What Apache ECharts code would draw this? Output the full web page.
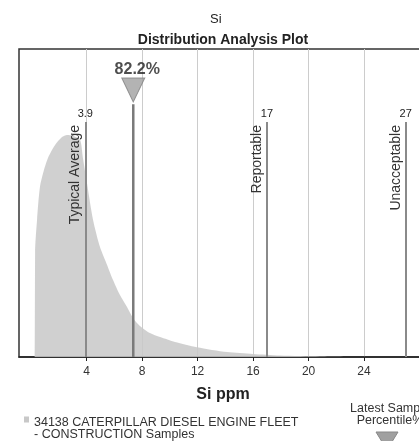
<!DOCTYPE html>
<html>
<head>
<meta charset="utf-8">
<script src="https://cdn.jsdelivr.net/npm/echarts@6/dist/echarts.min.js"></script>
<style>
html,body{margin:0;padding:0;overflow:hidden;background:#fff;}
#c{width:446px;height:441px;}
</style>
</head>
<body>
<div id="c"></div>
<script>
// ---- data ----
const titleTop = 'Si';
const titleMain = 'Distribution Analysis Plot';
const axisName = 'Si ppm';
const tickValues = [4, 8, 12, 16, 20, 24];
const densityX = [0.27, 0.28, 0.42, 0.63, 0.92, 1.21, 1.72, 2.22, 2.58, 3.01, 3.52, 3.73, 4.02, 4.46, 4.96, 5.47, 5.90, 6.40, 6.91, 7.34, 7.84, 8.56, 9.29, 10.37, 11.95, 14.12, 15.99, 17.94, 20.82, 23.7];
const densityY = [0, 0.338, 0.445, 0.552, 0.607, 0.646, 0.688, 0.714, 0.721, 0.718, 0.705, 0.646, 0.565, 0.445, 0.357, 0.299, 0.250, 0.201, 0.162, 0.127, 0.101, 0.078, 0.065, 0.049, 0.032, 0.016, 0.010, 0.005, 0.002, 0];
const limitNames = ['Typical Average', 'Reportable', 'Unacceptable'];
const limitValues = [3.9, 17, 27];
const limitLabels = ['3.9', '17', '27'];
const limitTop = 0.763;
const latestValue = 7.36;
const latestPercentile = '82.2%';
const latestTop = 0.821;
const latestMarker = 0.867;
const seriesName = '34138 CATERPILLAR DIESEL ENGINE FLEET\n- CONSTRUCTION Samples';
const latestLegend = ['Latest Sample', 'Percentile%'];

// ---- build ----
const density = densityX.map((x, i) => [x, densityY[i]]);
const limitMarks = [];
limitValues.forEach((v, i) => {
  limitMarks.push([
    { coord: [v, 0] },
    { coord: [v, limitTop], label: { show: true, position: 'end', formatter: limitLabels[i], fontSize: 11, color: '#222', distance: 3 } }
  ]);
  limitMarks.push([
    { coord: [v, 0] },
    { coord: [v, limitTop], label: { show: true, position: 'insideEndTop', formatter: limitNames[i], fontSize: 14, color: '#333', distance: 3 } }
  ]);
});

const chart = echarts.init(document.getElementById('c'), null, { renderer: 'canvas' });
const FONT = '"Liberation Sans", Arial, sans-serif';
chart.setOption({
  animation: false,
  textStyle: { fontFamily: FONT },
  title: [
    { text: titleTop, left: 205, top: 8, textStyle: { fontSize: 13, fontWeight: 'normal', color: '#222', fontFamily: FONT } },
    { text: titleMain, left: 'center', top: 28, textStyle: { fontSize: 14, fontWeight: 'bold', color: '#222', fontFamily: FONT } }
  ],
  grid: { left: 19, right: 19, top: 49, bottom: 84, show: true, borderColor: '#333', borderWidth: 1.5, backgroundColor: 'transparent' },
  legend: {
    data: [seriesName],
    left: 19, top: 411,
    icon: 'path://M0,0h5v6h-5zM0,24h5v0h-5z', itemWidth: 5, itemHeight: 24, itemGap: 6,
    textStyle: { fontSize: 12.5, color: '#333', lineHeight: 12, fontFamily: FONT }
  },
  xAxis: {
    type: 'value', min: -0.88, max: 28.54,
    name: axisName, nameLocation: 'middle', nameGap: 30,
    nameTextStyle: { fontSize: 16, fontWeight: 'bold', color: '#222', fontFamily: FONT },
    axisLine: { show: true, lineStyle: { color: '#222', width: 1.5 } },
    axisTick: { show: true, length: 4, customValues: tickValues, lineStyle: { color: '#222' } },
    axisLabel: { customValues: tickValues, fontSize: 12, color: '#333', margin: 9, fontFamily: FONT },
    splitLine: { show: true, lineStyle: { color: '#cccccc', width: 1 } }
  },
  yAxis: { type: 'value', min: 0, max: 1, show: false, splitLine: { show: false } },
  series: [
    {
      name: seriesName, type: 'line', data: density, symbol: 'none', smooth: 0.25,
      lineStyle: { width: 0 }, itemStyle: { color: '#c8c8c8' },
      areaStyle: { color: '#c8c8c8', opacity: 0.85 }, z: 2,
      markLine: {
        silent: true, symbol: 'none',
        lineStyle: { color: '#8a8a8a', width: 2, type: 'solid' },
        data: limitMarks
      }
    },
    {
      name: 'latest', type: 'line', data: [[latestValue, 0], [latestValue, latestTop]], symbol: 'none',
      lineStyle: { color: '#7a7a7a', width: 2.5 }, z: 4
    },
    {
      name: 'latestMarker', type: 'scatter', data: [[latestValue, latestMarker]],
      symbol: 'triangle', symbolRotate: 180, symbolSize: [23, 24],
      itemStyle: { color: '#a0a0a0', borderColor: '#808080', borderWidth: 1 },
      label: { show: true, position: 'top', formatter: latestPercentile, fontSize: 16, fontWeight: 'bold', color: '#222', distance: 0, offset: [4, 0] },
      z: 5
    }
  ],
  graphic: [
    { type: 'text', x: 390, y: 402, style: { text: latestLegend[0], fontSize: 12.5, fill: '#333', fontFamily: FONT, align: 'center' } },
    { type: 'text', x: 390, y: 414, style: { text: latestLegend[1], fontSize: 12.5, fill: '#333', fontFamily: FONT, align: 'center' } },
    { type: 'polygon', shape: { points: [[376, 432], [398, 432], [387, 450]] }, style: { fill: '#a0a0a0', stroke: '#888' } }
  ]
});
</script>
</body>
</html>
